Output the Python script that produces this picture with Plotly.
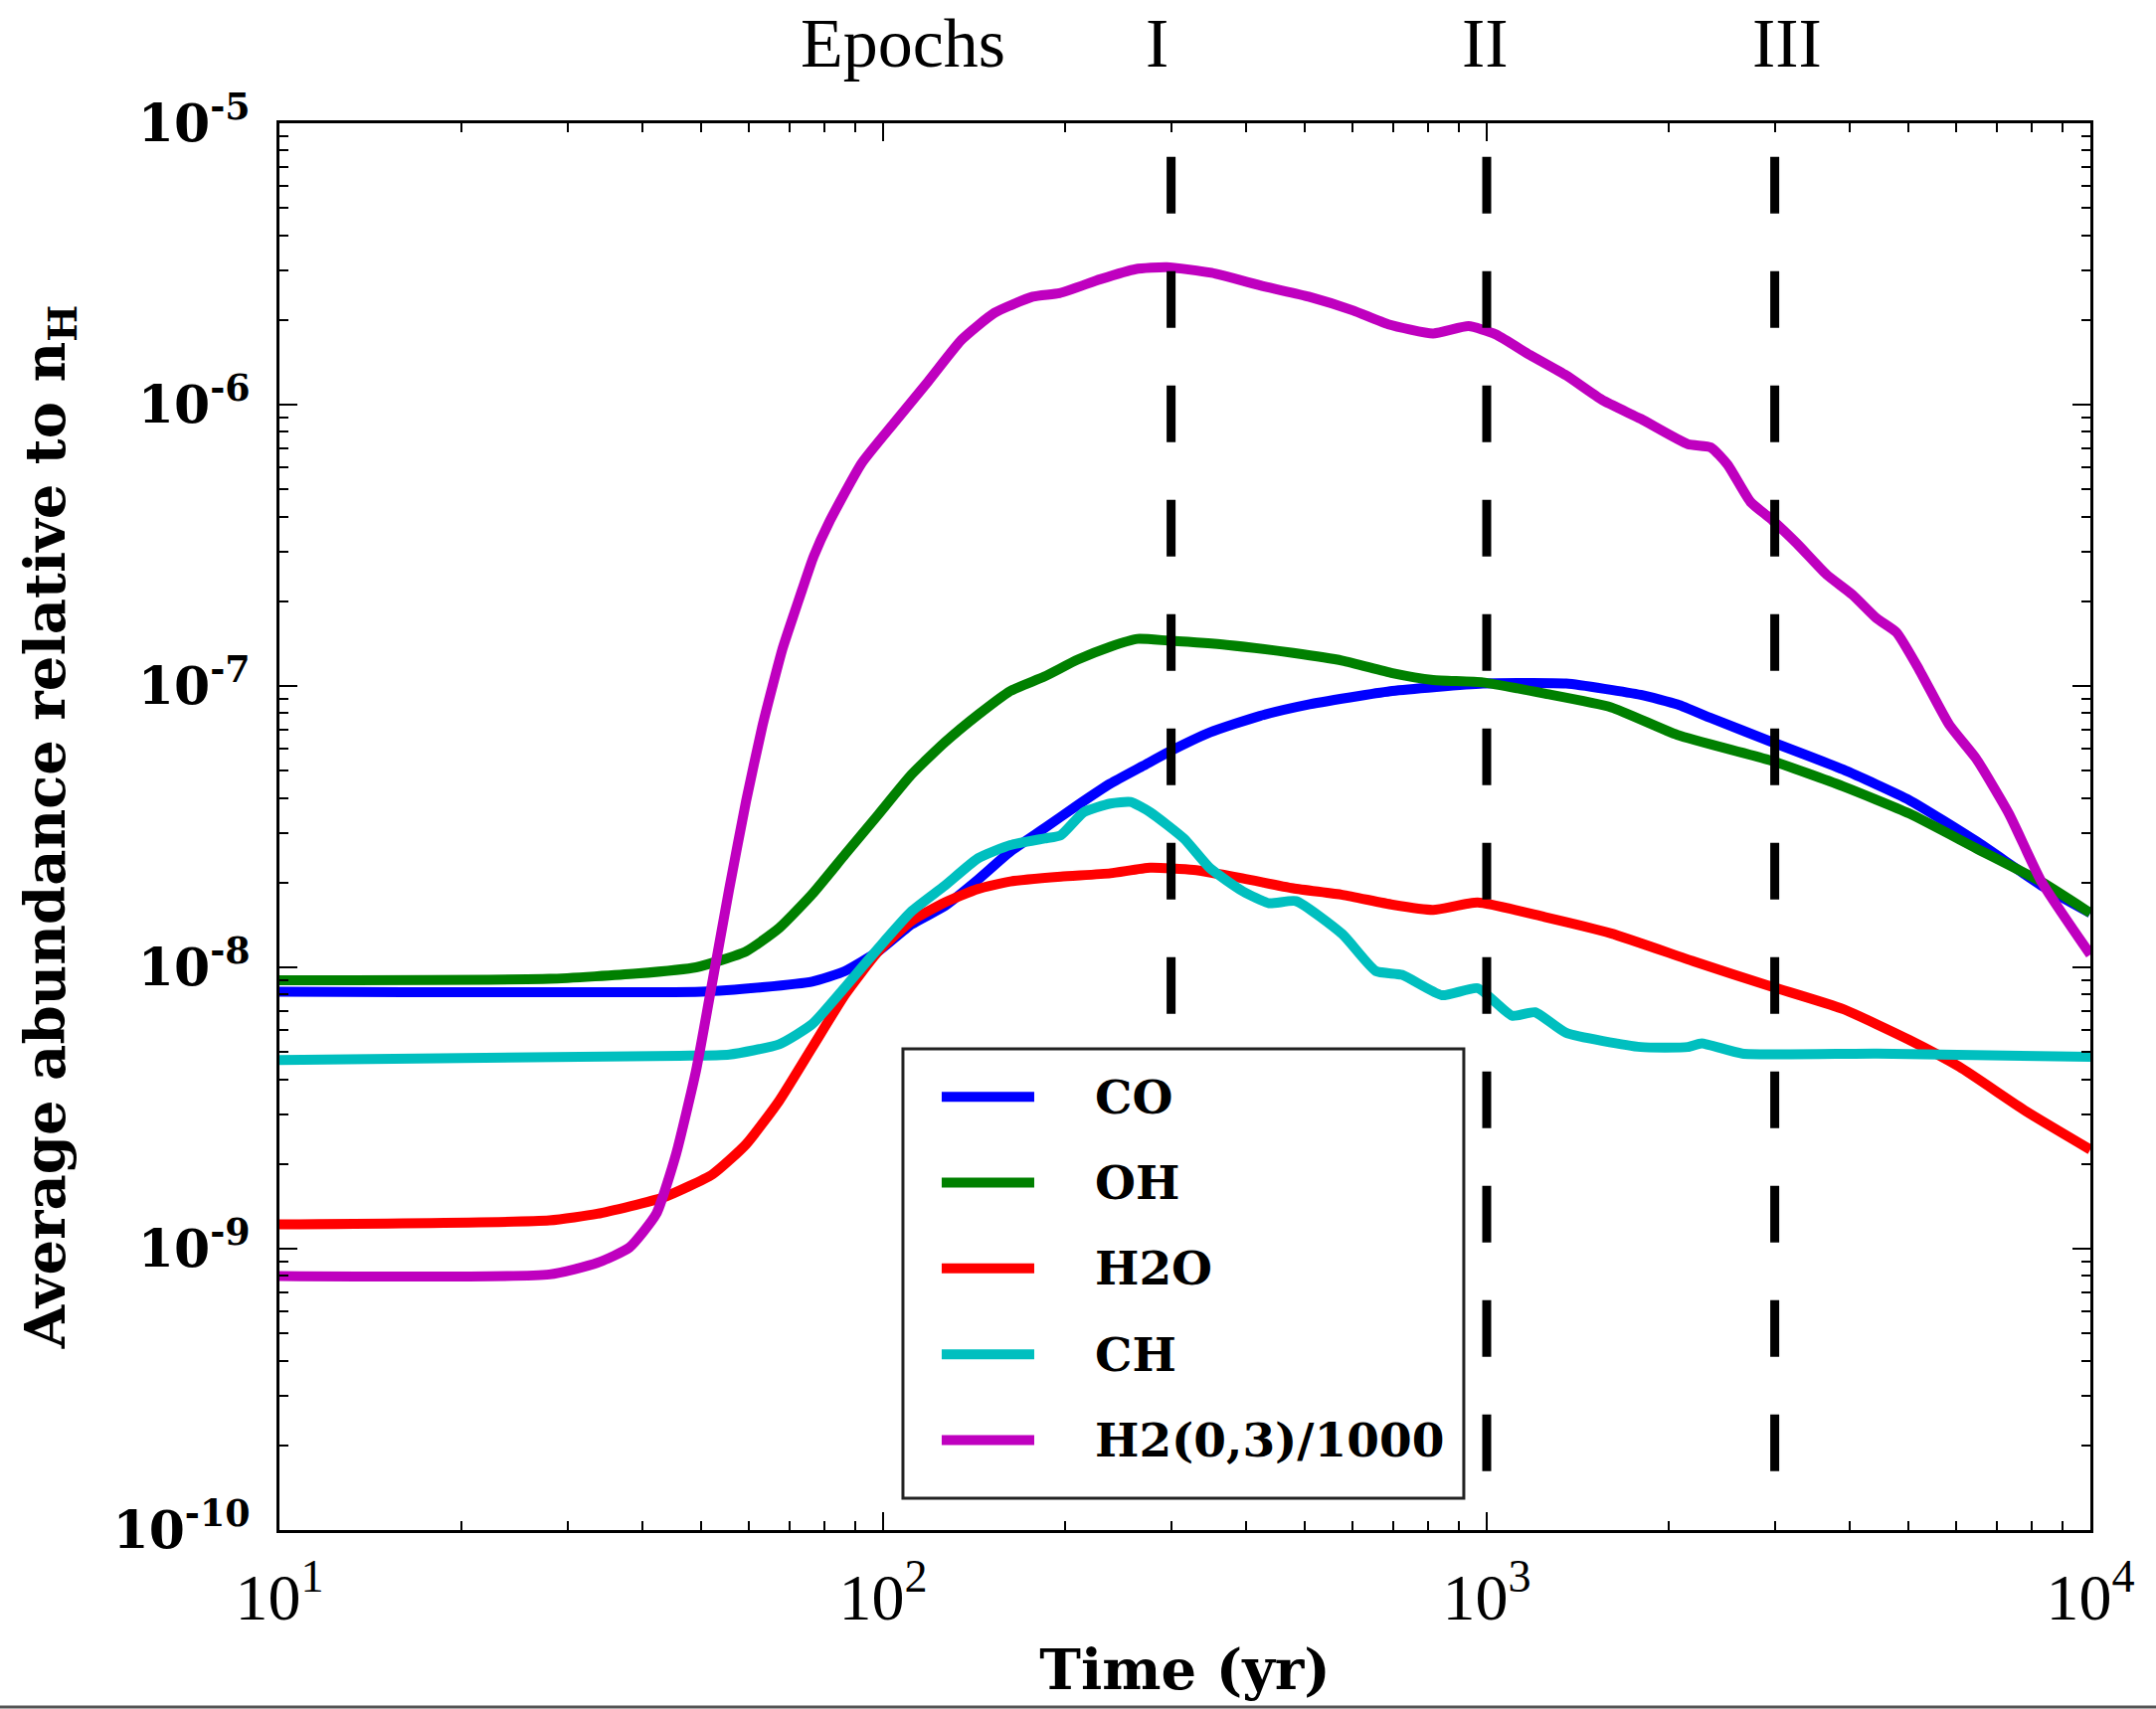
import math
import plotly.graph_objects as go

# ---------------- data ----------------
t_co = [10, 50, 63.1, 76.3, 86.5, 98.2, 111.4, 126.5, 143.6, 162.5, 185, 210, 238, 270, 296, 348,
        421, 509, 615, 698, 985, 1354, 1800, 2070, 2350, 2958, 3890, 5012, 6467, 8306, 10000]
co = [8.2e-9, 8.2e-9, 8.5e-9, 8.9e-9, 9.7e-9, 1.14e-8, 1.42e-8, 1.65e-8, 2.05e-8, 2.58e-8, 3.12e-8,
      3.77e-8, 4.5e-8, 5.21e-8, 5.8e-8, 6.84e-8, 7.83e-8, 8.61e-8, 9.22e-8, 9.6e-8, 1.02e-7, 1.02e-7,
      9.3e-8, 8.6e-8, 7.7e-8, 6.34e-8, 5.05e-8, 3.93e-8, 2.81e-8, 1.95e-8, 1.56e-8]

t_oh = [10, 28, 39, 49, 59.3, 67.3, 76.3, 86.5, 98.2, 111.4, 126.5, 143.6, 162.5, 185, 210, 238, 264,
        296, 371, 478, 577, 698, 815, 985, 1247, 1607, 2070, 2958, 3890, 5012, 6467, 8306, 10000]
oh = [9.0e-9, 9.1e-9, 9.5e-9, 1.0e-8, 1.14e-8, 1.38e-8, 1.82e-8, 2.52e-8, 3.49e-8, 4.84e-8, 6.3e-8,
      7.9e-8, 9.6e-8, 1.08e-7, 1.24e-7, 1.38e-7, 1.47e-7, 1.45e-7, 1.40e-7, 1.31e-7, 1.23e-7, 1.11e-7,
      1.05e-7, 1.03e-7, 9.4e-8, 8.4e-8, 6.7e-8, 5.43e-8, 4.40e-8, 3.52e-8, 2.65e-8, 2.01e-8, 1.56e-8]

t_h2o = [10, 28, 33.6, 43.2, 52.2, 59.3, 67.3, 76.3, 86.5, 98.2, 111.4, 126.5, 143.6, 162.5, 197, 238,
         277, 327, 395, 478, 577, 698, 815, 966, 1247, 1607, 2202, 2958, 3890, 5012, 6067, 7823, 10000]
h2o = [1.22e-9, 1.26e-9, 1.33e-9, 1.52e-9, 1.84e-9, 2.35e-9, 3.36e-9, 5.19e-9, 8.0e-9, 1.14e-8,
       1.46e-8, 1.7e-8, 1.9e-8, 2.02e-8, 2.10e-8, 2.16e-8, 2.26e-8, 2.22e-8, 2.07e-8, 1.91e-8, 1.81e-8,
       1.67e-8, 1.60e-8, 1.70e-8, 1.51e-8, 1.32e-8, 1.05e-8, 8.55e-9, 7.11e-9, 5.52e-9, 4.43e-9,
       3.08e-9, 2.25e-9]

t_ch = [10, 46, 55.6, 67.3, 76.3, 86.5, 98.2, 111.4, 126.5, 143.6, 162.5, 185, 197, 215, 238, 257, 277,
        315, 348, 395, 436, 483, 577, 655, 724, 843, 966, 1102, 1203, 1354, 1800, 2153, 2270, 2650,
        4424, 10000]
ch = [4.68e-9, 4.85e-9, 4.9e-9, 5.33e-9, 6.28e-9, 8.5e-9, 1.17e-8, 1.58e-8, 1.95e-8, 2.44e-8, 2.72e-8,
      2.87e-8, 2.95e-8, 3.56e-8, 3.82e-8, 3.87e-8, 3.56e-8, 2.87e-8, 2.25e-8, 1.86e-8, 1.69e-8,
      1.72e-8, 1.31e-8, 9.7e-9, 9.4e-9, 7.96e-9, 8.43e-9, 6.73e-9, 6.92e-9, 5.85e-9, 5.21e-9,
      5.21e-9, 5.37e-9, 4.94e-9, 4.94e-9, 4.81e-9]

t_h2 = [10, 28, 33.6, 38, 42.1, 45.4, 49, 52.2, 55.6, 59.3, 63.1, 65.6, 68.1, 70.8, 73.4, 76.7, 81.3,
        92.2, 104.7, 118.8, 134.9, 153, 177, 196, 229, 262, 295, 350, 428, 507, 601, 687, 815, 933,
        1033, 1180, 1354, 1552, 1800, 2153, 2350, 2506, 2735, 2958, 3264, 3655, 4036, 4424, 4773,
        5208, 5838, 6467, 7328, 8306, 10000]
h2 = [8.0e-10, 8.1e-10, 8.9e-10, 1.01e-9, 1.33e-9, 2.17e-9, 4.3e-9, 9.0e-9, 1.9e-8, 3.9e-8,
      7.2e-8, 1.0e-7, 1.35e-7, 1.74e-7, 2.19e-7, 2.88e-7, 3.8e-7, 6.2e-7, 8.7e-7, 1.21e-6, 1.70e-6,
      2.12e-6, 2.42e-6, 2.49e-6, 2.79e-6, 3.03e-6, 3.08e-6, 2.94e-6, 2.63e-6, 2.42e-6, 2.16e-6,
      1.93e-6, 1.79e-6, 1.90e-6, 1.78e-6, 1.50e-6, 1.27e-6, 1.04e-6, 8.9e-7, 7.24e-7, 7.05e-7,
      6.12e-7, 4.51e-7, 3.92e-7, 3.21e-7, 2.49e-7, 2.11e-7, 1.74e-7, 1.55e-7, 1.14e-7, 7.28e-8,
      5.52e-8, 3.52e-8, 2.01e-8, 1.11e-8]

series_names = ["CO", "OH", "H2O", "CH", "H2(0,3)/1000"]
series_colors = ["#0000ff", "#008000", "#ff0000", "#00bfbf", "#bf00bf"]
series_t = [t_co, t_oh, t_h2o, t_ch, t_h2]
series_y = [co, oh, h2o, ch, h2]

epochs = [300, 1000, 3000]
epoch_labels = ["I", "II", "III"]
epoch_line_span = [7.6e-6, 1.53e-10]

x_tickvals = [10, 100, 1000, 10000]
x_ticktext = ["10<sup>1</sup>", "10<sup>2</sup>", "10<sup>3</sup>", "10<sup>4</sup>"]
y_tickvals = [1e-10, 1e-9, 1e-8, 1e-7, 1e-6, 1e-5]
y_ticktext = ["<b>10<sup>-10</sup></b>", "<b>10<sup>-9</sup></b>", "<b>10<sup>-8</sup></b>",
              "<b>10<sup>-7</sup></b>", "<b>10<sup>-6</sup></b>", "<b>10<sup>-5</sup></b>"]

# ---------------- figure ----------------
fig = go.Figure()
for name, t, y, c in zip(series_names, series_t, series_y, series_colors):
    fig.add_trace(go.Scatter(x=t, y=y, mode="lines", name=name, showlegend=False,
                             line=dict(color=c, width=10, shape="spline", smoothing=0.5)))

for e in epochs:
    fig.add_trace(go.Scatter(x=[e, e], y=epoch_line_span, mode="lines", showlegend=False,
                             line=dict(color="black", width=9, dash="57px,58px")))

x_minor = [m * 10 ** d for d in range(1, 4) for m in range(2, 10)]
y_minor = [m * 10.0 ** d for d in range(-10, -5) for m in range(2, 10)]

serif = "Liberation Serif"
bold_serif = "DejaVu Serif"

fig.update_layout(
    width=2168, height=1719,
    margin=dict(l=281, r=66, t=124, b=180),
    paper_bgcolor="white", plot_bgcolor="white",
    showlegend=False,
    xaxis=dict(type="log", range=[1, 4], showgrid=False, zeroline=False,
               showline=True, linecolor="black", linewidth=3, mirror="allticks",
               ticks="inside", ticklen=18, tickwidth=2, tickcolor="black",
               tickmode="array", tickvals=x_tickvals, ticktext=x_ticktext,
               tickfont=dict(family=serif, size=66, color="black"),
               ticklabelstandoff=8,
               minor=dict(tickmode="array", tickvals=x_minor, ticks="inside",
                          ticklen=9, tickwidth=2, tickcolor="black", showgrid=False),
               title=dict(text="<b>Time (yr)</b>", standoff=18,
                          font=dict(family=bold_serif, size=56, color="black"))),
    yaxis=dict(type="log", range=[-10, -5], showgrid=False, zeroline=False,
               showline=True, linecolor="black", linewidth=3, mirror="allticks",
               ticks="inside", ticklen=18, tickwidth=2, tickcolor="black",
               tickmode="array", tickvals=y_tickvals, ticktext=y_ticktext,
               tickfont=dict(family=bold_serif, size=52, color="black"),
               ticklabelstandoff=16,
               minor=dict(tickmode="array", tickvals=y_minor, ticks="inside",
                          ticklen=9, tickwidth=2, tickcolor="black", showgrid=False),
               title=dict(text="<b>Average abundance relative to n<sub>H</sub></b>", standoff=30,
                          font=dict(family=bold_serif, size=56, color="black"))),
)

annotations = [dict(x=math.log10(108), y=1.057, xref="x", yref="paper", text="Epochs",
                    showarrow=False, xanchor="center", yanchor="middle",
                    font=dict(family=serif, size=70, color="black"))]
label_shift = [-14, -2, 12]
for e, lab, s in zip(epochs, epoch_labels, label_shift):
    annotations.append(dict(x=math.log10(e), y=1.057, xref="x", yref="paper", text=lab,
                            showarrow=False, xanchor="center", yanchor="middle", xshift=s,
                            font=dict(family=serif, size=70, color="black")))

shapes = [dict(type="rect", xref="paper", yref="paper", x0=0.3443, x1=0.654, y0=0.0226, y1=0.342,
               line=dict(color="#222222", width=3), fillcolor="white", layer="above")]
for i, (name, c) in enumerate(zip(series_names, series_colors)):
    yy = 0.308 - i * 0.061
    shapes.append(dict(type="line", xref="paper", yref="paper", x0=0.3657, x1=0.4168, y0=yy, y1=yy,
                       line=dict(color=c, width=10), layer="above"))
    annotations.append(dict(x=0.4492, y=yy, xref="paper", yref="paper", text="<b>%s</b>" % name,
                            showarrow=False, xanchor="left", yanchor="middle",
                            font=dict(family=bold_serif, size=47, color="black")))

shapes.append(dict(type="line", xref="paper", yref="paper", x0=-0.2, x1=1.1, y0=-0.1258, y1=-0.1258,
                   line=dict(color="#555555", width=3)))

fig.update_layout(annotations=annotations, shapes=shapes)
fig.write_html("out.html")
